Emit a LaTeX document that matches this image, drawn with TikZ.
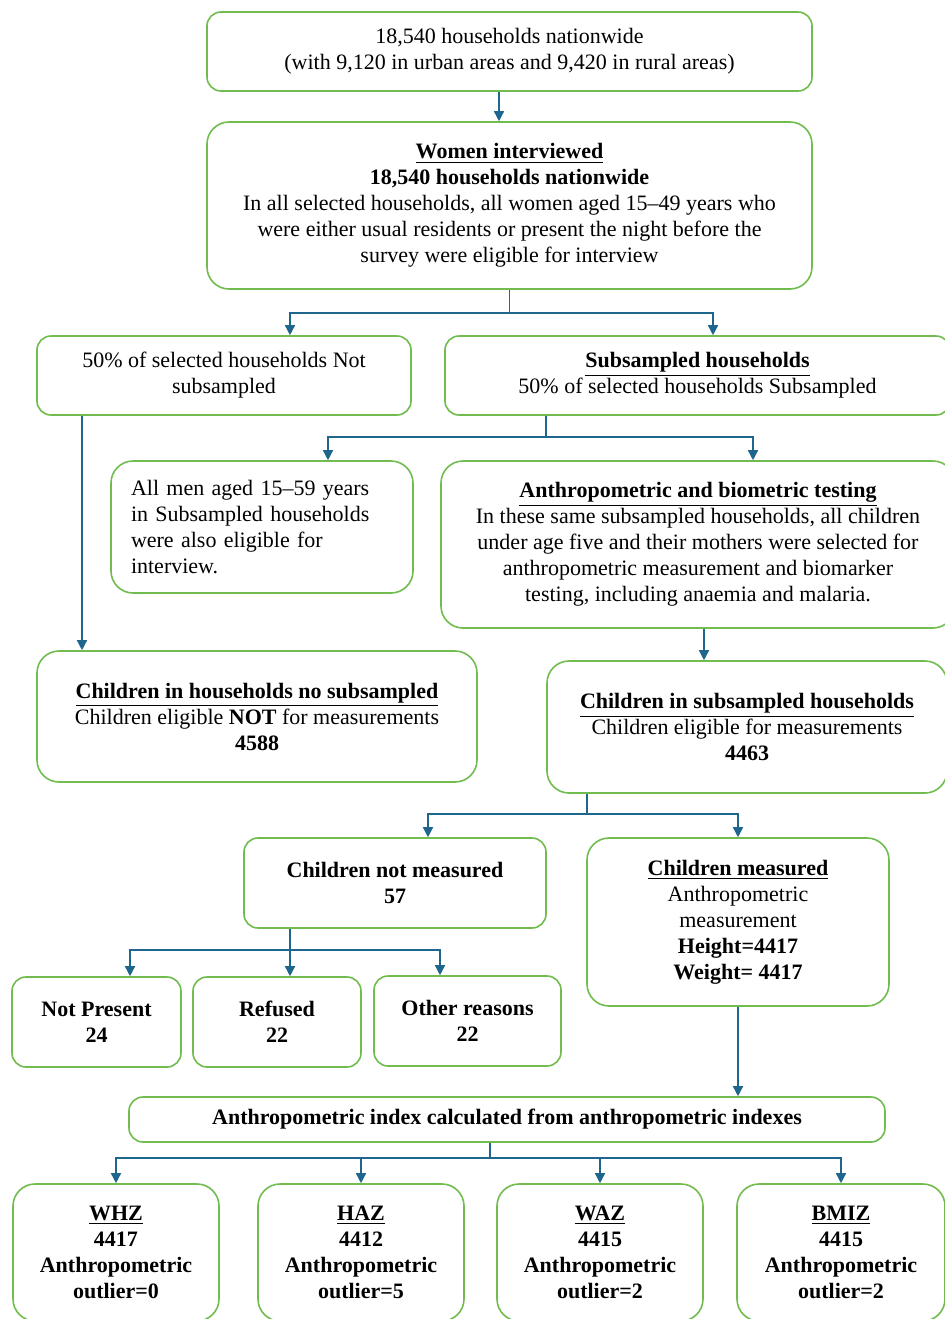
\documentclass[tikz,border=0pt]{standalone}
\usepackage{fontspec}
\setmainfont{Liberation Serif}
\usetikzlibrary{arrows.meta}
\definecolor{boxgreen}{RGB}{112,188,78}
\definecolor{arrblue}{RGB}{30,102,142}

\begin{document}
\begin{tikzpicture}[x=0.5pt, y=-0.5pt,
  bx/.style={draw=boxgreen, line width=0.8pt, rounded corners=7pt, align=center, inner sep=2pt, font=\fontsize{11}{13}\selectfont},
  big/.style={rounded corners=11pt},
  bld/.style={font=\fontsize{11}{13}\selectfont\bfseries},
  arr/.style={-{Triangle[length=5pt,width=5pt]}, arrblue, line width=0.75pt},
  ln/.style={arrblue, line width=0.75pt}
]
\useasboundingbox (0,0) rectangle (945,1319);

\node[bx, minimum width=302.5pt, minimum height=39.5pt] (hh) at (509.5,51.5) {18,540 households nationwide\\(with 9,120 in urban areas and 9,420 in rural areas)};
\node[bx, big, minimum width=302.5pt, minimum height=83.5pt] (women) at (509.5,205.5) {\underline{\textbf{Women interviewed}}\\\textbf{18,540 households nationwide}\\In all selected households, all women aged 15--49 years who\\were either usual residents or present the night before the\\survey were eligible for interview};

\node[bx, minimum width=187pt, minimum height=39.5pt] (notsub) at (224,375.5) {50\% of selected households Not\\subsampled};
\node[bx, minimum width=252.5pt, minimum height=39.5pt] (sub) at (697.5,375.5) {\underline{\textbf{Subsampled households}}\\50\% of selected households Subsampled};

\node[bx, big, minimum width=151pt, minimum height=66pt, text width=131pt, inner xsep=10pt, align=left] (men) at (262,527) {All men aged 15--59 years\\in Subsampled households\\were also eligible for\\interview.};
\node[bx, big, minimum width=257pt, minimum height=83.5pt] (anthro) at (698,544.5) {\underline{\textbf{Anthropometric and biometric testing}}\\In these same subsampled households, all children\\under age five and their mothers were selected for\\anthropometric measurement and biomarker\\testing, including anaemia and malaria.};

\node[bx, big, minimum width=220pt, minimum height=65.5pt] (childno) at (257,716.5) {\underline{\textbf{Children in households no subsampled}}\\Children eligible \textbf{NOT} for measurements\\\textbf{4588}};
\node[bx, big, minimum width=200pt, minimum height=66pt] (childsub) at (747,727) {\underline{\textbf{Children in subsampled households}}\\Children eligible for measurements\\\textbf{4463}};

\node[bx, bld, minimum width=151pt, minimum height=45pt] (notmeas) at (395,883) {Children not measured\\57};
\node[bx, big, minimum width=151pt, minimum height=84pt] (meas) at (738,922) {\underline{\textbf{Children measured}}\\Anthropometric\\measurement\\\textbf{Height=4417}\\\textbf{Weight= 4417}};

\node[bx, bld, minimum width=84.5pt, minimum height=45pt] (notpres) at (96.5,1022) {Not Present\\24};
\node[bx, bld, minimum width=84pt, minimum height=45pt] (refused) at (277,1022) {Refused\\22};
\node[bx, bld, minimum width=93.5pt, minimum height=45pt] (other) at (467.5,1021) {Other reasons\\22};

\node[bx, bld, minimum width=378pt, minimum height=22.5pt] (index) at (507,1119.5) {Anthropometric index calculated from anthropometric indexes};

\node[bx, big, bld, minimum width=103pt, minimum height=68.5pt] (whz) at (116,1252.5) {\underline{WHZ}\\4417\\Anthropometric\\outlier=0};
\node[bx, big, bld, minimum width=103pt, minimum height=68.5pt] (haz) at (361,1252.5) {\underline{HAZ}\\4412\\Anthropometric\\outlier=5};
\node[bx, big, bld, minimum width=103pt, minimum height=68.5pt] (waz) at (600,1252.5) {\underline{WAZ}\\4415\\Anthropometric\\outlier=2};
\node[bx, big, bld, minimum width=104pt, minimum height=68.5pt] (bmiz) at (841,1252.5) {\underline{BMIZ}\\4415\\Anthropometric\\outlier=2};

\draw[arr] (499,0 |- hh.south) -- (499,0 |- women.north);
\draw[ln] (women.south) -- ++(0,23) coordinate (f1);
\draw[arr] (f1) -| (290,0 |- notsub.north);
\draw[arr] (f1) -| (713,0 |- sub.north);

\draw[arr] (82,0 |- notsub.south) -- (82,0 |- childno.north);
\draw[ln] (546,0 |- sub.south) -- (546,437) coordinate (f2);
\draw[arr] (f2) -| (328,0 |- men.north);
\draw[arr] (f2) -| (753,0 |- anthro.north);

\draw[arr] (704,0 |- anthro.south) -- (704,0 |- childsub.north);
\draw[ln] (587,0 |- childsub.south) -- (587,814) coordinate (f3);
\draw[arr] (f3) -| (428,0 |- notmeas.north);
\draw[arr] (f3) -| (meas.north);

\draw[ln] (290,0 |- notmeas.south) -- (290,950) coordinate (f4);
\draw[arr] (f4) -| (130,0 |- notpres.north);
\draw[arr] (f4) -- (290,0 |- refused.north);
\draw[arr] (f4) -| (440,0 |- other.north);

\draw[arr] (meas.south) -- (index.north -| meas.south);
\draw[ln] (490,0 |- index.south) -- (490,1158) coordinate (f5);
\foreach \n in {whz,haz,waz,bmiz}
  \draw[arr] (f5) -| (\n.north);
\end{tikzpicture}
\end{document}
